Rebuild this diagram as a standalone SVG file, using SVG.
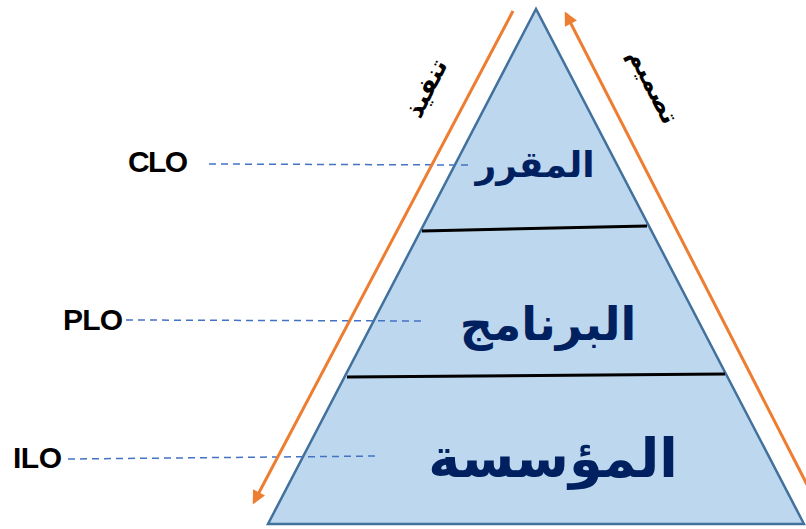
<svg xmlns="http://www.w3.org/2000/svg" width="806" height="529" viewBox="0 0 806 529">
<style>
.lbl{font-family:"Liberation Sans",Arial,sans-serif;font-weight:bold;font-size:30px;fill:#000}
.ar{font-family:"DejaVu Sans","Noto Sans",sans-serif;font-weight:bold;fill:#002060;text-anchor:middle}
.arb{font-family:"DejaVu Sans","Noto Sans",sans-serif;font-weight:bold;fill:#000;text-anchor:middle;font-size:25px}
.dash{stroke:#4472C4;stroke-width:1.5;stroke-dasharray:7 5;fill:none}
.orange{stroke:#ED7D31;stroke-width:3;fill:none}
.div{stroke:#000;stroke-width:3}
</style>
<defs>
<marker id="ah" viewBox="0 0 10 10" refX="8" refY="5" markerWidth="5" markerHeight="4.5" orient="auto" markerUnits="strokeWidth">
<path d="M0,0 L10,5 L0,10 z" fill="#ED7D31"/>
</marker>
</defs>
<g id="pyramid">
<polygon points="536,9 268,524 804,524" fill="#BDD7EE" stroke="#41719C" stroke-width="2.5"/>
<line class="div" x1="422" y1="231" x2="647" y2="226"/>
<line class="div" x1="347" y1="377" x2="725" y2="374"/>
</g>
<g id="level-course"><text class="ar" x="535" y="177" font-size="36">المقرر</text></g>
<g id="level-program"><text class="ar" x="548" y="340" font-size="46">البرنامج</text></g>
<g id="level-institution"><text class="ar" x="553" y="477" font-size="54">المؤسسة</text></g>
<g id="label-clo"><text class="lbl" x="128" y="172" textLength="60">CLO</text></g>
<g id="label-plo"><text class="lbl" x="63" y="330" textLength="60">PLO</text></g>
<g id="label-ilo"><text class="lbl" x="13" y="468" textLength="49">ILO</text></g>
<g id="label-execute"><text class="arb" transform="translate(434,92) rotate(-63)">تنفيذ</text></g>
<g id="label-design"><text class="arb" transform="translate(646,90) rotate(63)">تصميم</text></g>
<g id="connectors">
<line class="dash" x1="209" y1="164" x2="468" y2="165"/>
<line class="dash" x1="126" y1="320" x2="426" y2="321"/>
<line class="dash" x1="68" y1="459" x2="380" y2="456"/>
<line class="orange" x1="513" y1="11" x2="254" y2="502" marker-end="url(#ah)"/>
<line class="orange" x1="820" y1="510" x2="566" y2="14" marker-end="url(#ah)"/>
</g>
</svg>
